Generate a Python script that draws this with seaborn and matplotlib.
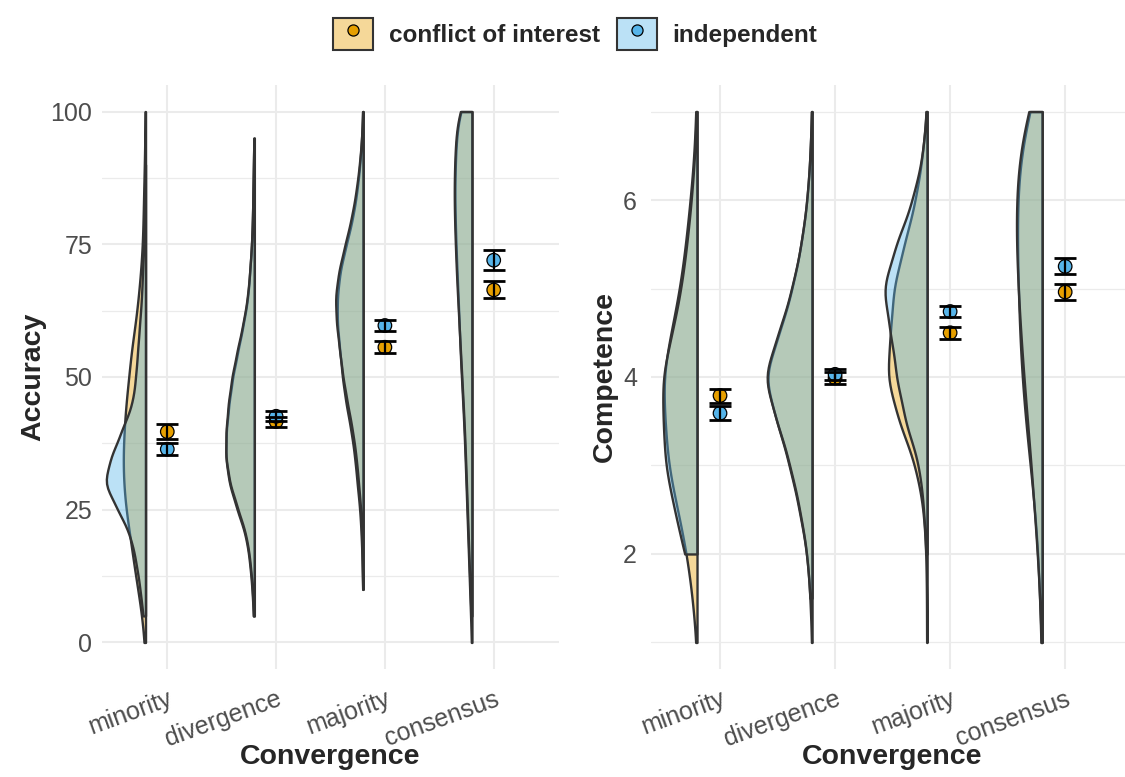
import numpy as np
import pandas as pd
import matplotlib
matplotlib.use("Agg")
import matplotlib.pyplot as plt
import matplotlib.colors as mcolors
import seaborn as sns
from matplotlib.transforms import Affine2D, ScaledTranslation
from matplotlib.patches import Patch
from matplotlib.lines import Line2D
from matplotlib.ticker import MultipleLocator
from matplotlib.legend_handler import HandlerTuple

categories = ["minority", "divergence", "majority", "consensus"]
groups = ["conflict of interest", "independent"]
colors = ["#E69F00", "#56B4E9"]

# Accuracy: response values and number of responses at each value
acc_values = [0, 5, 10, 15, 20, 25, 30, 35, 40, 45, 50, 55, 60, 65, 70, 75, 80, 85, 90, 95, 100]
acc_minority_coi = [2, 6, 13, 20, 26, 33, 37, 38, 36, 33, 28, 24, 17, 12, 8, 5, 4, 3, 2, 1, 1]
acc_minority_ind = [0, 5, 11, 19, 30, 56, 86, 70, 48, 26, 20, 16, 12, 8, 6, 4, 3, 2, 1, 0, 0]
acc_divergence_coi = [0, 2, 5, 10, 18, 38, 56, 64, 62, 56, 48, 36, 24, 14, 10, 6, 4, 3, 2, 1, 0]
acc_divergence_ind = [0, 2, 4, 9, 17, 36, 55, 64, 63, 58, 50, 38, 25, 15, 10, 6, 4, 3, 2, 1, 0]
acc_majority_coi = [0, 0, 1, 2, 4, 7, 13, 18, 26, 37, 45, 50, 56, 56, 50, 36, 22, 13, 7, 3, 1]
acc_majority_ind = [0, 0, 1, 2, 3, 5, 10, 15, 23, 34, 44, 51, 58, 61, 53, 39, 25, 15, 8, 3, 1]
acc_consensus_coi = [1, 3, 5, 7, 9, 11, 13, 15, 17, 20, 23, 26, 28, 30, 33, 35, 37, 38, 37, 34, 33]
acc_consensus_ind = [0, 2, 4, 6, 8, 10, 12, 14, 16, 19, 22, 25, 28, 31, 34, 36, 38, 39, 38, 35, 34]

# Competence: response values and number of responses at each value
comp_values = [1, 1.5, 2, 2.5, 3, 3.5, 4, 4.5, 5, 5.5, 6, 6.5, 7]
comp_minority_coi = [1, 8, 18, 34, 52, 56, 62, 46, 30, 20, 12, 5, 2]
comp_minority_ind = [0, 0, 23, 40, 58, 60, 64, 44, 28, 18, 10, 4, 1]
comp_divergence_coi = [1, 4, 10, 26, 46, 72, 100, 66, 40, 22, 10, 4, 1]
comp_divergence_ind = [0, 4, 10, 25, 45, 72, 102, 68, 41, 22, 10, 4, 1]
comp_majority_coi = [1, 1, 2, 6, 20, 50, 72, 64, 60, 40, 20, 8, 1]
comp_majority_ind = [0, 0, 2, 6, 14, 40, 56, 66, 82, 56, 26, 8, 1]
comp_consensus_coi = [2, 4, 7, 12, 20, 28, 34, 38, 40, 42, 42, 38, 22]
comp_consensus_ind = [1, 4, 8, 14, 19, 26, 32, 38, 42, 46, 46, 42, 26]

# group means with 95% CI half-widths
acc_mean_coi = [39.7, 41.6, 55.6, 66.4]
acc_ci_coi = [1.4, 0.95, 1.15, 1.6]
acc_mean_ind = [36.4, 42.6, 59.7, 72.0]
acc_ci_ind = [1.1, 0.95, 1.05, 1.85]
comp_mean_coi = [3.79, 3.99, 4.50, 4.96]
comp_ci_coi = [0.08, 0.07, 0.065, 0.095]
comp_mean_ind = [3.59, 4.03, 4.74, 5.25]
comp_ci_ind = [0.08, 0.06, 0.065, 0.09]

sns.set_theme(style="white")
plt.rcParams["font.family"] = ["Liberation Sans", "DejaVu Sans"]

palette = dict(zip(groups, colors))
GRID = "#EBEBEB"
EDGE = "#333333"


def long_table(values, counts):
    frames = []
    for (cat, grp), cnt in counts.items():
        frames.append(pd.DataFrame({"convergence": cat, "group": grp,
                                    "value": np.repeat(values, cnt)}))
    return pd.concat(frames, ignore_index=True)


def draw_panel(ax, df, means, cis, ylabel, width, bw_adjust, shift=-0.2):
    n0 = len(ax.collections)
    sns.violinplot(data=df, x="convergence", y="value", hue="group",
                   order=categories, hue_order=groups, palette=palette,
                   split=True, inner=None, cut=0,
                   density_norm="area", common_norm=True, width=width,
                   bw_adjust=bw_adjust, linewidth=1.7, linecolor=EDGE,
                   saturation=1, legend=False, ax=ax)
    # both halves on the left side, nudged left of the category
    blue = mcolors.to_rgb(colors[1])
    for coll in ax.collections[n0:]:
        xs = coll.get_paths()[0].vertices[:, 0]
        fc = coll.get_facecolor()[0][:3]
        if np.allclose(fc, blue, atol=0.02):
            c = xs.min()
            tr = Affine2D().scale(-1, 1).translate(2 * c + shift, 0)
            coll.set_zorder(2)
        else:
            tr = Affine2D().translate(shift, 0)
            coll.set_zorder(1)
        coll.set_transform(tr + ax.transData)
        coll.set_facecolor(mcolors.to_rgba(fc, 0.4))
        coll.set_edgecolor(EDGE)

    pos = np.arange(len(categories))
    summary = pd.DataFrame({"pos": np.concatenate([pos, pos]),
                            "mean": np.concatenate(means),
                            "group": np.repeat(groups, len(pos))})
    sns.scatterplot(data=summary, x="pos", y="mean", hue="group", palette=palette,
                    s=95, edgecolor="black", linewidth=0.9, zorder=4,
                    legend=False, ax=ax)
    for m, ci in zip(means, cis):
        ax.errorbar(pos, m, yerr=ci, fmt="none", ecolor="black", elinewidth=1.6,
                    capsize=8, capthick=2.0, zorder=5)

    ax.set_xticks(pos, categories)
    ax.set_ylabel(ylabel, fontsize=20.5, fontweight="bold")
    ax.set_xlabel("Convergence", fontsize=20.5, fontweight="bold", va="top")
    for s in ax.spines.values():
        s.set_visible(False)
    ax.grid(True, which="major", color=GRID, linewidth=1.5)
    ax.grid(True, which="minor", axis="y", color=GRID, linewidth=0.9)
    ax.set_axisbelow(True)
    ax.tick_params(which="both", length=0, labelsize=18, labelcolor="#4D4D4D")
    off = ScaledTranslation(3 / 100, 0, ax.figure.dpi_scale_trans)
    for lab in ax.get_xticklabels():
        lab.set_rotation(20)
        lab.set_ha("right")
        lab.set_va("top")
        lab.set_rotation_mode("anchor")
        lab.set_transform(lab.get_transform() + off)


fig = plt.figure(figsize=(11.25, 7.77), dpi=100)
ax1 = fig.add_axes([102 / 1125, 108 / 777, 457 / 1125, 584 / 777])
ax2 = fig.add_axes([651 / 1125, 108 / 777, 474 / 1125, 584 / 777])

acc_counts = {
    ("minority", groups[0]): acc_minority_coi, ("minority", groups[1]): acc_minority_ind,
    ("divergence", groups[0]): acc_divergence_coi, ("divergence", groups[1]): acc_divergence_ind,
    ("majority", groups[0]): acc_majority_coi, ("majority", groups[1]): acc_majority_ind,
    ("consensus", groups[0]): acc_consensus_coi, ("consensus", groups[1]): acc_consensus_ind,
}
comp_counts = {
    ("minority", groups[0]): comp_minority_coi, ("minority", groups[1]): comp_minority_ind,
    ("divergence", groups[0]): comp_divergence_coi, ("divergence", groups[1]): comp_divergence_ind,
    ("majority", groups[0]): comp_majority_coi, ("majority", groups[1]): comp_majority_ind,
    ("consensus", groups[0]): comp_consensus_coi, ("consensus", groups[1]): comp_consensus_ind,
}

draw_panel(ax1, long_table(acc_values, acc_counts), [acc_mean_coi, acc_mean_ind],
           [acc_ci_coi, acc_ci_ind], "Accuracy", width=0.72, bw_adjust=0.65)
ax1.set_ylim(-5, 105)
ax1.set_xlim(-0.6, 3.6)
ax1.yaxis.set_major_locator(MultipleLocator(25))
ax1.yaxis.set_minor_locator(MultipleLocator(12.5))
ax1.tick_params(axis="y", pad=7)
ax1.tick_params(axis="x", pad=13)
ax1.yaxis.set_label_coords(-0.1225, 0.5)
ax1.xaxis.set_label_coords(0.5, -0.128)

draw_panel(ax2, long_table(comp_values, comp_counts), [comp_mean_coi, comp_mean_ind],
           [comp_ci_coi, comp_ci_ind], "Competence", width=0.78, bw_adjust=1.0)
ax2.set_ylim(0.7, 7.3)
ax2.set_xlim(-0.6, 3.52)
ax2.yaxis.set_major_locator(MultipleLocator(2))
ax2.yaxis.set_minor_locator(MultipleLocator(1))
ax2.tick_params(axis="y", pad=10)
ax2.tick_params(axis="x", pad=13)
ax2.yaxis.set_label_coords(-0.0696, 0.5)
ax2.xaxis.set_label_coords(0.508, -0.128)

handles = [(Patch(facecolor=mcolors.to_rgba(c, 0.4), edgecolor=EDGE, linewidth=1.5),
            Line2D([], [], marker="o", linestyle="", markersize=8, markerfacecolor=c,
                   markeredgecolor="black", markeredgewidth=0.9))
           for c in colors]
fig.legend(handles, groups, loc="center", bbox_to_anchor=(575 / 1125, 1 - 34 / 777),
           ncol=2, frameon=False, handler_map={tuple: HandlerTuple(ndivide=1)},
           handlelength=1.65, handleheight=1.65, handletextpad=0.65, columnspacing=0.7,
           prop={"weight": "bold", "size": 17.5})

fig.savefig("out.png", dpi=100)
